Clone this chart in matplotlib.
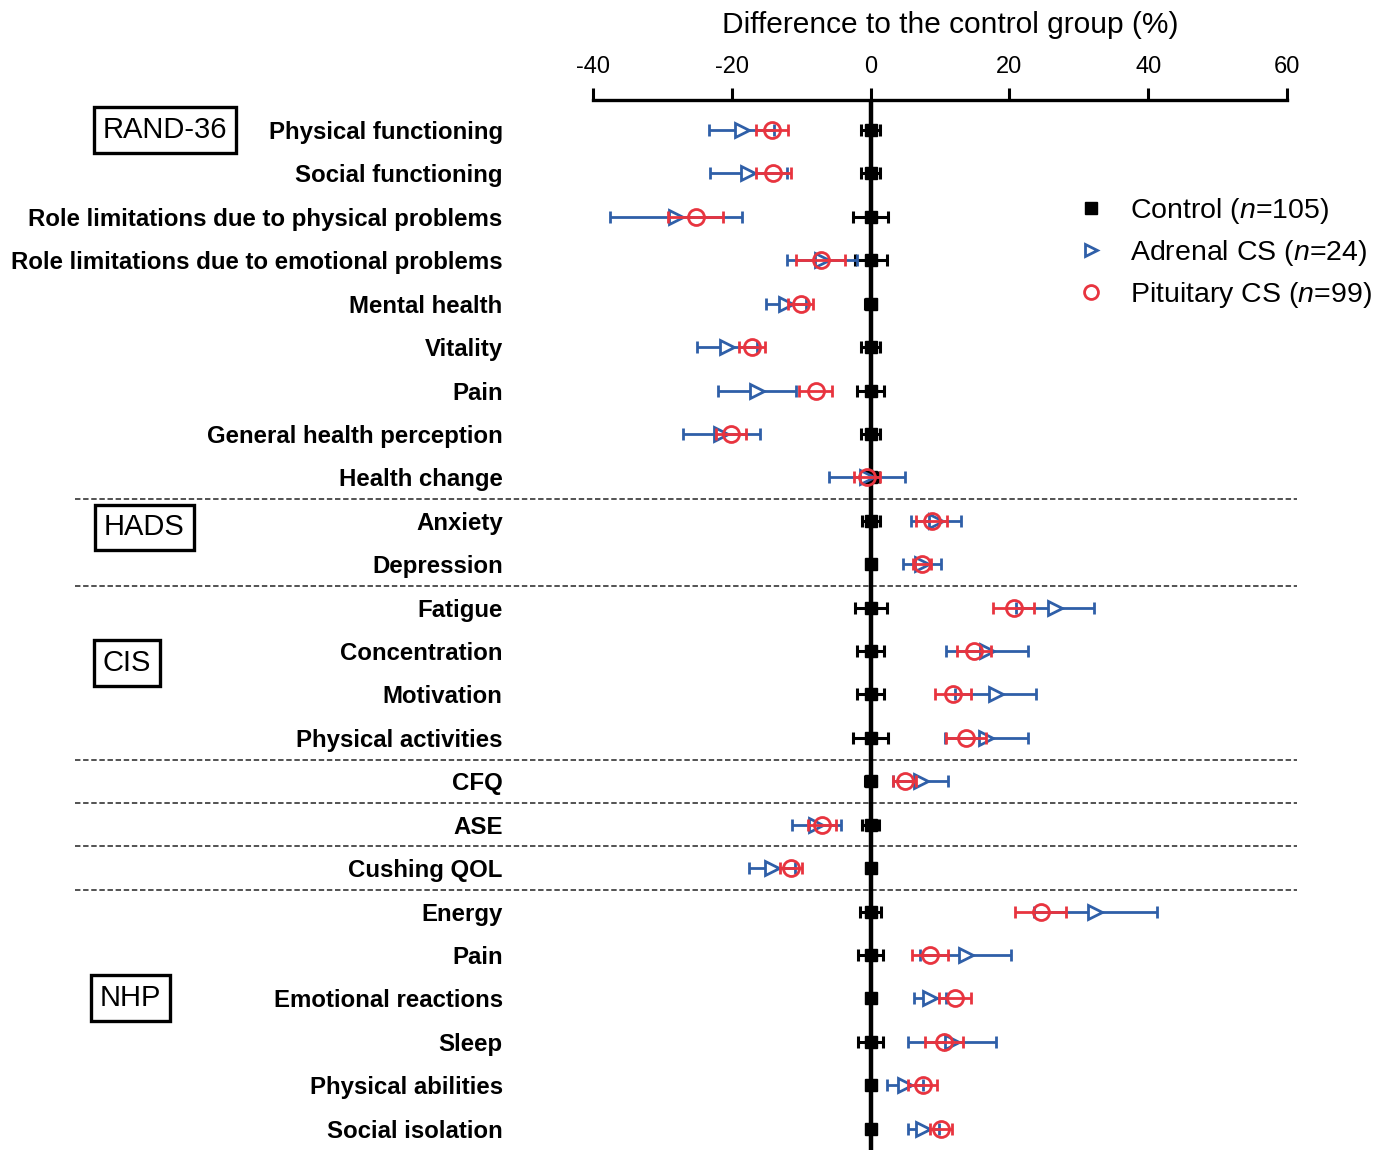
import matplotlib
matplotlib.use('Agg')
import matplotlib.pyplot as plt
from matplotlib.lines import Line2D
import matplotlib.transforms as mtrans
import numpy as np

plt.rcParams['font.family'] = ['Liberation Sans', 'DejaVu Sans']
plt.rcParams['mathtext.fontset'] = 'custom'
plt.rcParams['mathtext.it'] = 'Liberation Sans:italic'
plt.rcParams['mathtext.rm'] = 'Liberation Sans'
plt.rcParams['axes.unicode_minus'] = False

# ---------------- data ----------------
labels = ["Physical functioning", "Social functioning",
          "Role limitations due to physical problems",
          "Role limitations due to emotional problems",
          "Mental health", "Vitality", "Pain", "General health perception",
          "Health change", "Anxiety", "Depression", "Fatigue", "Concentration",
          "Motivation", "Physical activities", "CFQ", "ASE", "Cushing QOL",
          "Energy", "Pain", "Emotional reactions", "Sleep",
          "Physical abilities", "Social isolation"]

control_mean = [0.0] * 24
control_err = [1.4, 1.4, 2.5, 2.3, 0.8, 1.4, 1.9, 1.4, 1.2, 1.3, 0.5, 2.3,
               2.0, 2.0, 2.5, 0.8, 1.2, 0.5, 1.5, 1.8, 0.5, 1.8, 0.5, 0.5]

adrenal_mean = [-18.6, -17.6, -28.0, -7.0, -12.2, -20.7, -16.4, -21.5, -0.5,
                9.4, 7.4, 26.6, 16.8, 18.0, 16.7, 7.2, -7.8, -14.2,
                32.4, 13.7, 8.5, 11.7, 5.0, 7.6]
adrenal_err = [4.7, 5.5, 9.5, 5.1, 2.9, 4.3, 5.6, 5.6, 5.5, 3.6, 2.8, 5.6,
               5.9, 5.8, 6.0, 4.0, 3.5, 3.3, 8.9, 6.6, 2.3, 6.3, 2.6, 2.2]

pituitary_mean = [-14.2, -14.0, -25.2, -7.2, -10.1, -17.1, -7.9, -20.1, -0.5,
                  8.8, 7.4, 20.6, 14.9, 11.9, 13.8, 4.9, -7.0, -11.5,
                  24.5, 8.5, 12.1, 10.6, 7.5, 10.1]
pituitary_err = [2.3, 2.5, 4.0, 3.5, 1.8, 1.9, 2.4, 2.2, 1.9, 2.2, 1.3, 2.9,
                 2.4, 2.6, 2.9, 1.7, 2.0, 1.6, 3.7, 2.6, 2.3, 2.7, 2.1, 1.6]

legend_labels = [r"Control ($n$=105)", r"Adrenal CS ($n$=24)",
                 r"Pituitary CS ($n$=99)"]

group_names = ["RAND-36", "HADS", "CIS", "NHP"]
group_last_rows = [8, 10, 14, 15, 16, 17]   # separators drawn after these rows
xticks = [-40, -20, 0, 20, 40, 60]
xlabel = "Difference to the control group (%)"

# ---------------- layout ----------------
W, H = 1382, 1150
blue = '#2f5fa8'
red = '#e8343f'

fig = plt.figure(figsize=(W / 100, H / 100), dpi=100)
ax = fig.add_axes([593 / W, 0, (1287 - 593) / W, 1 - 100 / H])

n = len(labels)
y = np.arange(n)
ax.set_xlim(-40, 60)
ax.set_ylim(23.49, -0.69)

ax.axvline(0, color='k', lw=3.2, zorder=2)

ax.errorbar(control_mean, y, xerr=control_err, fmt='s', color='k', ms=8.5,
            capsize=4.5, elinewidth=2.2, capthick=2.2, zorder=3)
ax.errorbar(adrenal_mean, y, xerr=adrenal_err, fmt='>', color=blue,
            mfc='white', mec=blue, mew=2, ms=10, capsize=4.5,
            elinewidth=2, capthick=2, zorder=4)
ax.errorbar(pituitary_mean, y, xerr=pituitary_err, fmt='o', color=red,
            mfc='none', mec=red, mew=2, ms=11.5, capsize=4.5,
            elinewidth=2, capthick=2, zorder=5)

# axes styling
for s in ['left', 'right', 'bottom']:
    ax.spines[s].set_visible(False)
ax.spines['top'].set_linewidth(2.4)
ax.xaxis.tick_top()
ax.xaxis.set_label_position('top')
ax.set_xticks(xticks)
ax.tick_params(axis='x', direction='out', length=9, width=2.2, labelsize=17,
               pad=7)
ax.set_xlabel(xlabel, fontsize=21.5, labelpad=14)
ax.xaxis.set_label_coords((950 - 593) / (1287 - 593), 1 + 61 / 1050)
ax.xaxis.label.set_va('bottom')

ax.set_yticks(y)
ax.set_yticklabels(labels, fontsize=17.3, fontweight='bold')
ax.tick_params(axis='y', length=0, pad=65)

# separators
tr = mtrans.blended_transform_factory(fig.transFigure, ax.transData)
for r in group_last_rows:
    ax.add_line(Line2D([75 / W, 1297 / W], [r + 0.5, r + 0.5], transform=tr,
                       color='#444444', lw=1.3, ls=(0, (3, 1.5)),
                       clip_on=False, zorder=1))

# group boxes
group_rows = [0.0, 9.15, 12.28, 19.99]
group_x = [103, 104, 103, 100]
for name, r, gx in zip(group_names, group_rows, group_x):
    ax.text(gx / W, r, name, transform=tr, ha='left', va='center',
            fontsize=21, clip_on=False,
            bbox=dict(boxstyle='square,pad=0.3', fc='white', ec='k', lw=2.4))

# legend
handles = [Line2D([], [], marker='s', ls='none', color='k', ms=8),
           Line2D([], [], marker='>', ls='none', mec=blue, mfc='white',
                  mew=2, ms=9),
           Line2D([], [], marker='o', ls='none', mec=red, mfc='white',
                  mew=2, ms=10)]
fig.legend(handles, legend_labels, loc='upper left',
           bbox_to_anchor=(1080 / W, 1 - 196 / H), frameon=False, fontsize=20.5,
           handlelength=0.8, handletextpad=0.95, labelspacing=0.42,
           borderpad=0, borderaxespad=0)

fig.savefig('out.png', dpi=100)
